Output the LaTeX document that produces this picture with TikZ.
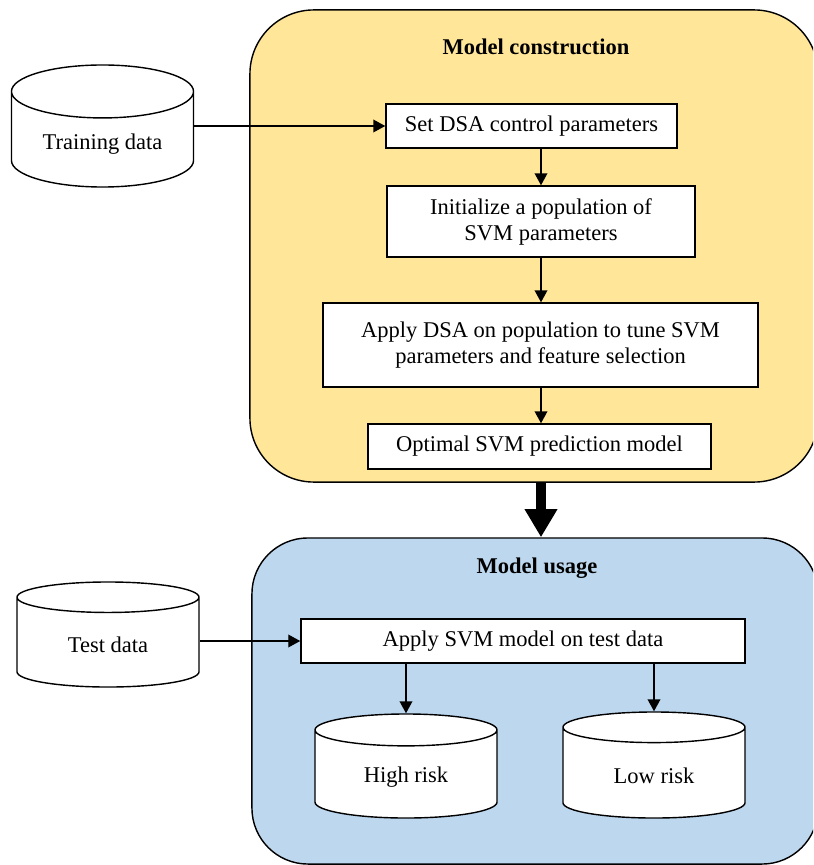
\documentclass[tikz,border=0pt]{standalone}
\usepackage{fontspec}
\setmainfont{Liberation Serif}
\usetikzlibrary{shapes.geometric,arrows.meta}

\definecolor{buildfill}{HTML}{FFE699}
\definecolor{usefill}{HTML}{BDD7EE}

\tikzset{
	container/.style={rectangle, draw, line width=1pt},
	stepbox/.style={rectangle, draw, fill=white, line width=1pt, text centered, align=center},
	datastore/.style={cylinder, shape border rotate=90, draw, fill=white, line width=1pt, minimum width=4.55cm, anchor=shape center},
	flow/.style={line width=1pt, -{Triangle[length=8.5pt,width=9pt]}},
	bigflow/.style={line width=7.8pt, -{Triangle[length=20pt,width=22pt]}}
}

\begin{document}
\begin{tikzpicture}[x=0.025cm, y=-0.025cm, font=\fontsize{16}{18.5}\selectfont]
		
		\clip (0,0) rectangle (813,865);
		
		%Phases
		\node (build) at (534,246) [container, fill=buildfill, rounded corners=1.6cm, minimum width=14.2cm, minimum height=11.8cm]{};
		\node (use) at (535,701) [container, fill=usefill, rounded corners=1.4cm, minimum width=14.15cm, minimum height=8.15cm]{};
		
		\node (buildtitle) at (536,47) {\textbf{Model construction}};
		\node (usetitle) at (537,568) {\textbf{Model usage}};
		
		%Model construction steps
		\node (setpar) at (531.5,126) [stepbox, minimum width=7.275cm, minimum height=1.1cm]{Set DSA control parameters};
		
		\node (init) at (541,221.5) [stepbox, minimum width=7.7cm, minimum height=1.775cm]{Initialize a population of\\SVM parameters};
		
		\node (tune) at (540.5,345) [stepbox, minimum width=10.875cm, minimum height=2.1cm]{Apply DSA on population to tune SVM\\parameters and feature selection};
		
		\node (optimal) at (539.5,446.5) [stepbox, minimum width=8.575cm, minimum height=1.125cm]{Optimal SVM prediction model};
		
		%Model usage steps
		\node (apply) at (523,641) [stepbox, minimum width=11.1cm, minimum height=1.1cm]{Apply SVM model on test data};
		
		%Data
		\node (train) at (102.5,126) [datastore, minimum height=3.05cm, aspect=0.41]{Training data};
		\node (test) at (108,634.5) [datastore, minimum height=2.625cm, aspect=0.34]{Test data};
		\node (high) at (406,766) [datastore, minimum height=2.6cm, aspect=0.34]{High risk};
		\node (low) at (654,765) [datastore, minimum height=2.65cm, aspect=0.34]{Low risk};
		
		%Links
		\draw[flow] (train.east |- setpar.west) -- (setpar.west);
		\draw[flow] (init.north |- setpar.south) -- (init.north);
		\draw[flow] (init.south) -- (init.south |- tune.north);
		\draw[flow] (init.south |- tune.south) -- (init.south |- optimal.north);
		
		\draw[bigflow] (init.south |- build.south) -- (init.south |- use.north);
		
		\draw[flow] (test.east |- apply.west) -- (apply.west);
		\draw[flow] (high.north |- apply.south) -- (high.north);
		\draw[flow] (low.north |- apply.south) -- (low.north);
		
		\end{tikzpicture}
\end{document}
